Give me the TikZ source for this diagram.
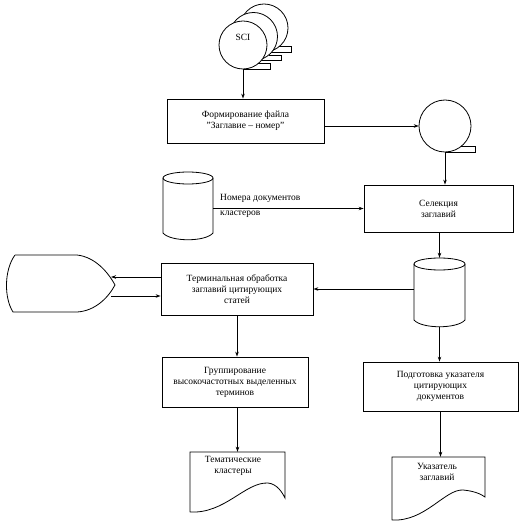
\documentclass[tikz,border=0pt]{standalone}
\usepackage{fontspec}
\setmainfont{Liberation Serif}
\usetikzlibrary{arrows.meta,calc}
\tikzset{
  lw/.style={line width=0.8pt},
  box/.style={draw, lw, rectangle, align=center, inner sep=2pt, font=\fontsize{9.5}{11}\selectfont},
  ghost/.style={draw=none, rectangle, inner sep=0pt},
  ghostc/.style={draw=none, circle, inner sep=0pt},
  txt/.style={font=\fontsize{9.5}{11}\selectfont, align=center, inner sep=0pt},
  arr/.style={lw, -{Stealth[length=5pt,width=3.5pt]}},
}
\newcommand\tapesym[3]{%
  \fill[white] (#1,{#2+#3}) -- ({#1+1.15*#3},{#2+#3}) -- ({#1+1.15*#3},{#2+0.78*#3}) -- ({#1+0.63*#3},{#2+0.78*#3}) -- cycle;
  \draw[lw, fill=white] (#1,#2) circle[radius=#3pt];
  \draw[lw] (#1,{#2+#3}) -- ({#1+1.15*#3},{#2+#3}) -- ({#1+1.15*#3},{#2+0.78*#3}) -- ({#1+0.63*#3},{#2+0.78*#3});
}
\newcommand\cylsym[4]{%
  \draw[lw, fill=white] (#1,{#2+6}) -- (#1,{#4-7}) .. controls ({#1+0.15*(#3-#1)},{#4+2}) and ({#3-0.15*(#3-#1)},{#4+2}) .. (#3,{#4-7}) -- (#3,{#2+6});
  \draw[lw] ({(#1+#3)/2},{#2+6}) ellipse[x radius={((#3-#1)/2)*1pt}, y radius=6pt];
}
\begin{document}
\begin{tikzpicture}[x=1pt,y=-1pt]
\useasboundingbox (0,0) rectangle (532,526);

% SCI tape stack
\tapesym{264}{28}{24}
\tapesym{253.5}{36.5}{24}
\tapesym{243}{45}{24}
\node[ghostc, minimum size=48pt] (sci) at (243,45) {};
\node[txt] (scit) at (243,37) {SCI};

% box 1
\node[box, minimum width=157pt, minimum height=44pt] (b1) at (245.5,121) {Формирование файла\\"Заглавие -- номер"};

% tape 2
\tapesym{445}{126}{26}
\node[ghostc, minimum size=52pt] (tape2) at (445,126) {};

% cylinder 1 and label
\cylsym{163}{172}{213}{240}
\node[ghost, minimum width=50pt, minimum height=68pt] (cyl1) at (188,206) {};
\node[txt, anchor=west] (lbl1) at (220,198) {Номера документов};
\node[txt, anchor=west] (lbl2) at (220,214) {кластеров};

% selection
\node[box, minimum width=149pt, minimum height=47pt] (sel) at (438.5,208.5) {Селекция\\заглавий};

% cylinder 2
\cylsym{414}{258}{465}{327}
\node[ghost, minimum width=51pt, minimum height=69pt] (cyl2) at (439.5,292.5) {};

% terminal processing
\node[box, minimum width=152pt, minimum height=52pt] (term) at (237,289) {Терминальная обработка\\заглавий цитирующих\\статей};

% display
\draw[lw] (15,255) -- (77,255) .. controls (95,257) and (108,272) .. (115,285)
  .. controls (108,298) and (95,311) .. (77,312) -- (13,312)
  .. controls (4,298) and (4,270) .. (15,255);
\node[ghost, minimum width=108pt, minimum height=57pt] (disp) at (61,283.5) {};
\coordinate (dispA) at (111,277);
\coordinate (dispB) at (111,296);

% grouping
\node[box, minimum width=146pt, minimum height=50pt] (group) at (235,382) {Группирование\\высокочастотных выделенных\\терминов};

% index preparation
\node[box, minimum width=155pt, minimum height=49pt] (podg) at (440.5,386.5) {Подготовка указателя\\цитирующих\\документов};

% document 1
\draw[lw] (190,512) -- (190,452) -- (285,452) -- (285,498)
  .. controls (282,492) and (277,484) .. (268,483)
  .. controls (245,482) and (225,514) .. (190,512);
\node[ghost, minimum width=95pt, minimum height=60pt] (doc1) at (237.5,482) {};
\node[txt] (doc1t) at (233,466) {Тематические\\кластеры};

% document 2
\draw[lw] (392,520) -- (392,457) -- (485,457) -- (485,497)
  .. controls (481,494) and (474,491) .. (463,490)
  .. controls (445,489) and (425,522) .. (392,520);
\node[ghost, minimum width=93pt, minimum height=63pt] (doc2) at (438.5,488.5) {};
\node[txt] (doc2t) at (437,472) {Указатель\\заглавий};

% connectors
\draw[arr] (sci.south) -- (sci.south |- b1.north);
\draw[arr] (b1.east |- tape2.west) -- (tape2.west);
\draw[arr] (tape2.south) -- (tape2.south |- sel.north);
\draw[arr] (cyl1.east |- sel.west) -- (sel.west);
\draw[arr] (cyl2.north |- sel.south) -- (cyl2.north);
\draw[arr] (cyl2.west |- term.east) -- (term.east);
\draw[arr] (cyl2.south) -- (cyl2.south |- podg.north);
\draw[arr] (term.west |- dispA) -- (dispA);
\draw[arr] (dispB) -- (term.west |- dispB);
\draw[arr] (term.south) -- (term.south |- group.north);
\draw[arr] (doc1.north |- group.south) -- (doc1.north);
\draw[arr] (podg.south) -- (podg.south |- doc2.north);
\end{tikzpicture}
\end{document}
